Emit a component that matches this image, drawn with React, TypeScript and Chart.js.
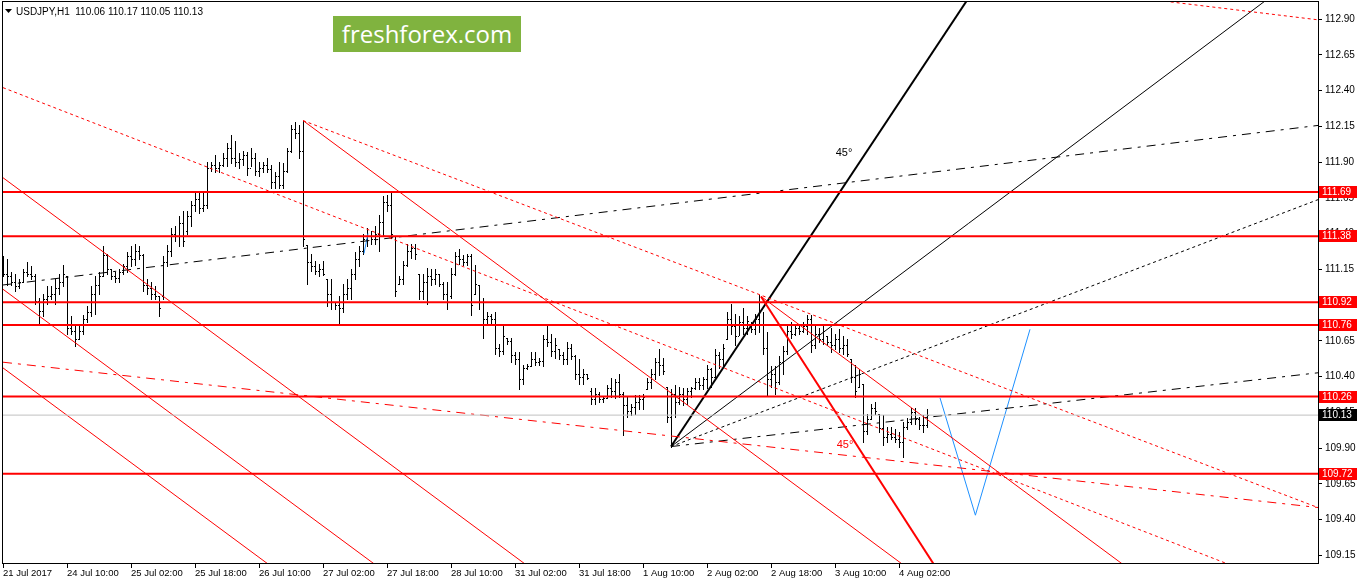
import React, { useEffect, useRef } from "react";
import { Chart, registerables } from "chart.js";

Chart.register(...registerables);

const TITLE_TEXT = "USDJPY,H1  110.06 110.17 110.05 110.13";
const WATERMARK = "freshforex.com";

const X_TICK_INDEX = [0, 16, 32, 48, 64, 80, 96, 112, 128, 144, 160, 176, 192, 208, 224];
const X_TICK_LABELS = [
  "21 Jul 2017", "24 Jul 10:00", "25 Jul 02:00", "25 Jul 18:00", "26 Jul 10:00",
  "27 Jul 02:00", "27 Jul 18:00", "28 Jul 10:00", "31 Jul 02:00", "31 Jul 18:00",
  "1 Aug 10:00", "2 Aug 02:00", "2 Aug 18:00", "3 Aug 10:00", "4 Aug 02:00",
];
const Y_TICKS = [112.9, 112.65, 112.4, 112.15, 111.9, 111.65, 111.4, 111.15, 110.9, 110.65, 110.4, 110.15, 109.9, 109.65, 109.4, 109.15];

const OPENS = [
  111.20,111.12,111.10,111.06,111.03,111.06,111.13,111.12,111.10,110.93,
  110.86,110.94,110.96,110.98,111.02,111.06,111.10,110.74,110.72,110.66,
  110.72,110.80,110.85,110.98,111.04,111.10,111.25,111.15,111.10,111.09,
  111.13,111.17,111.24,111.22,111.28,111.25,111.04,111.02,110.98,110.96,
  110.96,111.20,111.28,111.40,111.38,111.47,111.42,111.52,111.60,111.64,
  111.58,111.60,111.86,111.88,111.86,111.88,111.93,112.00,111.93,111.90,
  111.92,111.95,111.86,111.93,111.84,111.86,111.88,111.85,111.76,111.80,
  111.74,111.84,111.98,112.13,112.10,111.98,111.32,111.20,111.17,111.14,
  111.15,111.08,110.98,110.92,110.90,110.88,110.98,111.02,111.12,111.22,
  111.28,111.36,111.38,111.36,111.40,111.48,111.62,111.60,111.38,111.05,
  111.08,111.18,111.28,111.30,111.12,111.00,111.06,111.10,111.08,111.12,
  111.05,110.98,110.96,111.12,111.24,111.22,111.20,111.24,110.98,111.04,
  110.92,110.80,110.82,110.80,110.60,110.58,110.67,110.65,110.55,110.52,
  110.38,110.46,110.47,110.52,110.50,110.51,110.66,110.64,110.58,110.59,
  110.55,110.52,110.60,110.54,110.42,110.40,110.42,110.30,110.24,110.28,
  110.24,110.25,110.32,110.30,110.36,110.28,110.20,110.16,110.19,110.22,
  110.24,110.31,110.36,110.42,110.50,110.48,110.33,110.12,110.28,110.22,
  110.28,110.24,110.30,110.32,110.36,110.34,110.38,110.45,110.40,110.55,
  110.52,110.66,110.80,110.75,110.68,110.78,110.74,110.76,110.73,110.80,
  110.76,110.60,110.38,110.42,110.36,110.50,110.58,110.72,110.70,110.74,
  110.72,110.75,110.80,110.62,110.70,110.66,110.68,110.64,110.62,110.66,
  110.60,110.62,110.52,110.40,110.33,110.35,110.02,110.10,110.18,110.14,
  110.04,109.98,110.00,109.98,109.96,109.94,110.05,110.08,110.15,110.10,
  110.06,110.06,
];
const HIGHS = [
  111.24,111.22,111.13,111.12,111.08,111.15,111.20,111.17,111.12,110.95,
  110.98,111.03,111.03,111.08,111.12,111.18,111.10,110.82,110.75,110.75,
  110.83,110.89,111.03,111.10,111.13,111.31,111.26,111.15,111.13,111.15,
  111.19,111.27,111.31,111.33,111.31,111.26,111.08,111.06,111.03,110.96,
  111.24,111.32,111.44,111.45,111.52,111.56,111.56,111.63,111.68,111.68,
  111.70,111.90,111.90,111.95,111.90,111.96,112.03,112.09,112.05,111.96,
  111.98,111.97,112.00,111.96,111.90,111.90,111.93,111.88,111.83,111.90,
  111.89,112.00,112.16,112.18,112.16,112.19,111.32,111.26,111.21,111.19,
  111.21,111.08,111.08,110.92,110.96,111.05,111.08,111.15,111.27,111.31,
  111.40,111.44,111.42,111.45,111.53,111.66,111.67,111.70,111.38,111.10,
  111.21,111.33,111.33,111.33,111.12,111.12,111.16,111.15,111.15,111.12,
  111.06,111.06,111.16,111.27,111.29,111.25,111.26,111.26,111.18,111.04,
  110.95,110.85,110.84,110.85,110.63,110.75,110.67,110.67,110.57,110.57,
  110.48,110.49,110.57,110.57,110.53,110.69,110.76,110.70,110.67,110.59,
  110.57,110.64,110.63,110.55,110.52,110.45,110.42,110.32,110.32,110.29,
  110.26,110.34,110.39,110.38,110.42,110.29,110.26,110.21,110.27,110.27,
  110.28,110.39,110.45,110.53,110.59,110.53,110.33,110.31,110.34,110.33,
  110.32,110.32,110.33,110.39,110.39,110.40,110.48,110.46,110.59,110.57,
  110.63,110.85,110.91,110.84,110.82,110.88,110.82,110.78,110.84,110.97,
  110.85,110.71,110.47,110.47,110.54,110.61,110.76,110.78,110.77,110.76,
  110.78,110.83,110.83,110.75,110.74,110.75,110.68,110.74,110.70,110.73,
  110.68,110.66,110.52,110.48,110.45,110.35,110.14,110.21,110.22,110.14,
  110.13,110.05,110.05,110.03,110.01,110.08,110.11,110.18,110.18,110.12,
  110.13,110.17,
];
const LOWS = [
  111.10,111.04,111.04,111.00,111.02,111.06,111.10,111.08,110.91,110.76,
  110.82,110.91,110.94,110.91,110.98,111.03,110.70,110.70,110.61,110.66,
  110.70,110.78,110.82,110.84,110.98,111.10,111.12,111.08,111.06,111.06,
  111.12,111.13,111.17,111.18,111.22,111.00,110.98,110.94,110.94,110.82,
  110.94,111.17,111.24,111.35,111.31,111.31,111.40,111.45,111.56,111.54,
  111.56,111.58,111.84,111.83,111.83,111.87,111.87,111.89,111.87,111.86,
  111.88,111.81,111.87,111.81,111.80,111.83,111.83,111.72,111.72,111.72,
  111.72,111.83,111.97,112.07,111.93,111.31,111.05,111.14,111.12,111.10,
  111.11,110.89,110.87,110.87,110.77,110.85,110.94,110.94,111.08,111.17,
  111.26,111.31,111.33,111.33,111.28,111.39,111.56,111.37,110.96,111.05,
  111.05,111.17,111.23,111.22,110.94,110.94,110.91,111.04,111.05,111.03,
  110.94,110.87,110.95,111.11,111.19,111.18,111.18,110.83,110.98,110.87,
  110.67,110.77,110.77,110.56,110.54,110.56,110.63,110.50,110.49,110.31,
  110.35,110.45,110.47,110.48,110.48,110.47,110.61,110.54,110.53,110.52,
  110.49,110.49,110.52,110.38,110.35,110.35,110.38,110.21,110.21,110.22,
  110.22,110.25,110.26,110.25,110.26,109.99,110.12,110.13,110.14,110.17,
  110.17,110.31,110.32,110.38,110.41,110.42,110.08,109.91,110.12,110.21,
  110.20,110.21,110.26,110.31,110.31,110.31,110.32,110.33,110.40,110.46,
  110.48,110.66,110.70,110.62,110.69,110.70,110.70,110.71,110.70,110.71,
  110.56,110.27,110.33,110.28,110.35,110.42,110.56,110.67,110.69,110.70,
  110.71,110.70,110.57,110.60,110.64,110.63,110.62,110.57,110.59,110.57,
  110.56,110.54,110.36,110.26,110.33,109.94,110.00,110.10,110.14,110.01,
  109.92,109.94,109.96,109.94,109.91,109.84,110.03,110.07,110.07,110.03,
  110.01,110.05,
];
const CLOSES = [
  111.12,111.10,111.06,111.03,111.06,111.13,111.12,111.10,110.93,110.86,
  110.94,110.96,110.98,111.02,111.06,111.12,110.74,110.72,110.66,110.72,
  110.80,110.85,110.98,111.04,111.10,111.25,111.15,111.10,111.09,111.13,
  111.17,111.24,111.22,111.28,111.25,111.04,111.02,110.98,110.96,110.88,
  111.20,111.28,111.40,111.38,111.47,111.35,111.52,111.60,111.64,111.58,
  111.60,111.86,111.88,111.86,111.88,111.93,112.00,111.93,111.90,111.92,
  111.95,111.86,111.93,111.84,111.86,111.88,111.85,111.76,111.80,111.74,
  111.84,111.98,112.13,112.10,111.98,111.36,111.20,111.17,111.14,111.15,
  111.12,110.98,110.92,110.90,110.88,110.98,111.02,111.12,111.22,111.28,
  111.36,111.38,111.36,111.40,111.48,111.62,111.60,111.40,111.00,111.08,
  111.18,111.28,111.30,111.26,111.00,111.06,111.10,111.08,111.12,111.05,
  110.98,110.92,111.12,111.24,111.22,111.20,111.24,110.90,111.05,110.92,
  110.80,110.82,110.80,110.60,110.58,110.68,110.65,110.55,110.52,110.38,
  110.46,110.47,110.52,110.50,110.51,110.66,110.64,110.58,110.62,110.55,
  110.52,110.60,110.54,110.42,110.40,110.42,110.39,110.24,110.28,110.24,
  110.25,110.32,110.30,110.36,110.28,110.20,110.16,110.19,110.22,110.24,
  110.26,110.36,110.42,110.50,110.48,110.44,110.12,110.28,110.22,110.28,
  110.24,110.30,110.32,110.36,110.34,110.38,110.45,110.40,110.55,110.52,
  110.60,110.80,110.75,110.68,110.78,110.74,110.79,110.73,110.80,110.76,
  110.60,110.38,110.42,110.36,110.50,110.58,110.72,110.70,110.74,110.72,
  110.75,110.80,110.62,110.70,110.66,110.72,110.64,110.62,110.66,110.60,
  110.62,110.56,110.40,110.30,110.42,110.02,110.10,110.18,110.16,110.04,
  109.98,110.00,109.98,109.96,109.94,110.05,110.08,110.15,110.10,110.06,
  110.06,110.13,
];

const LEVELS = [111.69, 111.38, 110.92, 110.76, 110.26, 109.72];
const BID = 110.13;

// drawing anchors: [bar index, price]
const BLACK_45 = [[167, 109.91], [250, 113.41]];
const BLACK_FAN_SOLID = [[167, 109.91], [330, 113.33]];
const BLACK_FAN_DOT = [[167, 109.91], [330, 111.65]];
const BLACK_FAN_DASHDOT = [[167, 109.91], [330, 110.43]];
const BLACK_UPPER_DASHDOT = [[0, 111.04], [330, 112.16]];
const RED_DOT_1 = [[0, 112.42], [330, 108.83]];
const RED_DOT_2 = [[75, 112.19], [330, 109.47]];
const RED_DOT_TOP = [[280, 113.06], [330, 112.89]];
const RED_DASHDOT = [[0, 110.5], [330, 109.48]];
const RED_CH_1 = [[0, 111.79], [330, 104.96]];
const RED_CH_2 = [[0, 111.01], [330, 104.18]];
const RED_CH_3 = [[0, 110.46], [330, 103.63]];
const RED_CH_HIGH1 = [[75, 112.19], [330, 106.91]];
const RED_CH_HIGH2 = [[189.5, 110.96], [330, 108.05]];
const RED_45 = [[189.5, 110.96], [240, 108.77]];
const BLUE_PATH = [[234.25, 110.25], [243.1, 109.43], [256.75, 110.73]];
const BLUE_TICK = [[90.25, 111.26], [91.25, 111.4]];
const ANGLE_BLACK = [210.25, 111.96];
const ANGLE_RED = [210.5, 109.92];

const FONT = "'Liberation Sans', Arial, sans-serif";
const RED = "#ff0000";
const BLUE = "#1e90ff";

const DOT = [3, 3];
const DASHDOT = [9, 6, 3, 6];

function lineDs(pts: number[][], color: string, width: number, dash: number[] = []) {
  return {
    type: "scatter" as const,
    data: pts.map(([x, y]) => ({ x, y })),
    showLine: true,
    borderColor: color,
    backgroundColor: color,
    borderWidth: width,
    borderDash: dash,
    pointRadius: 0,
    pointHoverRadius: 0,
    tension: 0,
    fill: false,
    clip: 0,
  };
}

const ohlcPlugin = {
  id: "ohlcBars",
  beforeDatasetsDraw(chart: any) {
    const { ctx, chartArea, scales } = chart;
    const x = scales.x;
    const y = scales.y;
    ctx.save();
    ctx.beginPath();
    ctx.rect(chartArea.left, chartArea.top, chartArea.right - chartArea.left, chartArea.bottom - chartArea.top);
    ctx.clip();
    ctx.strokeStyle = "#000";
    ctx.lineWidth = 1;
    ctx.beginPath();
    for (let i = 0; i < HIGHS.length; i++) {
      const px = Math.round(x.getPixelForValue(i));
      const yh = Math.round(y.getPixelForValue(HIGHS[i]));
      const yl = Math.round(y.getPixelForValue(LOWS[i]));
      const yo = Math.round(y.getPixelForValue(OPENS[i]));
      const yc = Math.round(y.getPixelForValue(CLOSES[i]));
      ctx.moveTo(px + 0.5, yh);
      ctx.lineTo(px + 0.5, yl + 1);
      ctx.moveTo(px - 1, yo + 0.5);
      ctx.lineTo(px, yo + 0.5);
      ctx.moveTo(px + 1, yc + 0.5);
      ctx.lineTo(px + 2, yc + 0.5);
    }
    ctx.stroke();
    ctx.restore();
  },
};

const overlayPlugin = {
  id: "overlay",
  afterDraw(chart: any) {
    const { ctx, chartArea, scales } = chart;
    const x = scales.x;
    const y = scales.y;
    ctx.save();
    ctx.strokeStyle = "#000";
    ctx.lineWidth = 1;
    ctx.strokeRect(chartArea.left + 0.5, chartArea.top + 0.5, chartArea.right - chartArea.left, chartArea.bottom - chartArea.top);

    ctx.font = `11px ${FONT}`;
    ctx.textAlign = "center";
    ctx.textBaseline = "middle";
    ctx.fillStyle = "#000";
    ctx.fillText("45°", x.getPixelForValue(ANGLE_BLACK[0]), y.getPixelForValue(ANGLE_BLACK[1]));
    ctx.fillStyle = RED;
    ctx.fillText("45°", x.getPixelForValue(ANGLE_RED[0]), y.getPixelForValue(ANGLE_RED[1]));

    ctx.font = `10px ${FONT}`;
    ctx.textAlign = "left";
    const boxes: [number, string][] = LEVELS.map((v) => [v, RED]);
    boxes.push([BID, "#000"]);
    for (const [v, bg] of boxes) {
      const py = Math.round(y.getPixelForValue(v));
      ctx.fillStyle = bg;
      ctx.fillRect(chartArea.right + 1, py - 6, 38, 12);
      ctx.fillStyle = "#fff";
      ctx.fillText(v.toFixed(2), chartArea.right + 4, py + 0.5);
    }

    ctx.fillStyle = "#000";
    ctx.beginPath();
    ctx.moveTo(5, 9);
    ctx.lineTo(12, 9);
    ctx.lineTo(8.5, 13);
    ctx.closePath();
    ctx.fill();
    ctx.font = `10px ${FONT}`;
    ctx.textBaseline = "alphabetic";
    ctx.fillText(TITLE_TEXT, 16, 14.5);
    ctx.restore();
  },
};

export default function App() {
  const ref = useRef<HTMLCanvasElement | null>(null);
  useEffect(() => {
    document.body.style.margin = "0";
    const canvas = ref.current;
    if (!canvas) return;
    const datasets: any[] = [];
    datasets.push(lineDs([[-1, BID], [340, BID]], "#c0c0c0", 1));
    LEVELS.forEach((v) => datasets.push(lineDs([[-1, v], [340, v]], RED, 2)));
    datasets.push(lineDs(RED_DOT_1, RED, 1, DOT));
    datasets.push(lineDs(RED_DOT_2, RED, 1, DOT));
    datasets.push(lineDs(RED_DOT_TOP, RED, 1, DOT));
    datasets.push(lineDs(RED_DASHDOT, RED, 1, DASHDOT));
    datasets.push(lineDs(RED_CH_1, RED, 1));
    datasets.push(lineDs(RED_CH_2, RED, 1));
    datasets.push(lineDs(RED_CH_3, RED, 1));
    datasets.push(lineDs(RED_CH_HIGH1, RED, 1));
    datasets.push(lineDs(RED_CH_HIGH2, RED, 1));
    datasets.push(lineDs(RED_45, RED, 2));
    datasets.push(lineDs(BLACK_UPPER_DASHDOT, "#000", 1, DASHDOT));
    datasets.push(lineDs(BLACK_FAN_DASHDOT, "#000", 1, DASHDOT));
    datasets.push(lineDs(BLACK_FAN_DOT, "#000", 1, DOT));
    datasets.push(lineDs(BLACK_FAN_SOLID, "#000", 1));
    datasets.push(lineDs(BLACK_45, "#000", 2));
    datasets.push(lineDs(BLUE_PATH, BLUE, 1));
    datasets.push(lineDs(BLUE_TICK, BLUE, 1));

    const chart = new Chart(canvas, {
      type: "scatter",
      data: { datasets },
      plugins: [ohlcPlugin, overlayPlugin],
      options: {
        animation: false,
        responsive: false,
        devicePixelRatio: 1,
        events: [],
        layout: { padding: { left: 2, top: 1, right: 0, bottom: 0 } },
        plugins: { legend: { display: false }, tooltip: { enabled: false }, title: { display: false } },
        scales: {
          x: {
            type: "linear",
            position: "bottom",
            min: -0.25,
            max: 328.75,
            afterBuildTicks: (s: any) => {
              s.ticks = X_TICK_INDEX.map((v) => ({ value: v }));
            },
            afterFit: (s: any) => {
              s.height = 21;
              s.paddingLeft = 0;
              s.paddingRight = 0;
            },
            ticks: {
              autoSkip: false,
              maxRotation: 0,
              minRotation: 0,
              align: "start",
              padding: 0,
              color: "#000",
              font: { family: FONT, size: 9.5 },
              callback: (_v: any, i: number) => X_TICK_LABELS[i] ?? "",
            },
            grid: { drawOnChartArea: false, drawTicks: true, tickLength: 5, color: "#000" },
            border: { display: false },
          },
          y: {
            type: "linear",
            position: "right",
            min: 109.0958,
            max: 113.0259,
            afterBuildTicks: (s: any) => {
              s.ticks = Y_TICKS.map((v) => ({ value: v }));
            },
            afterFit: (s: any) => {
              s.width = 40;
              s.paddingTop = 0;
              s.paddingBottom = 0;
            },
            ticks: {
              padding: 3,
              color: "#000",
              font: { family: FONT, size: 10 },
              callback: (v: any) => Number(v).toFixed(2),
            },
            grid: { drawOnChartArea: false, drawTicks: true, tickLength: 4, color: "#000" },
            border: { display: false },
          },
        },
      } as any,
    });
    return () => chart.destroy();
  }, []);

  return (
    <div style={{ position: "relative", width: 1358, height: 584, background: "#fff" }}>
      <canvas ref={ref} width={1358} height={584} style={{ display: "block" }} />
      <div
        style={{
          position: "absolute",
          left: 333,
          top: 16,
          width: 188,
          height: 36,
          background: "#80b33f",
          color: "#fff",
          fontFamily: "'Open Sans', sans-serif",
          fontSize: 24,
          lineHeight: "36px",
          textAlign: "center",
        }}
      >
        {WATERMARK}
      </div>
    </div>
  );
}
